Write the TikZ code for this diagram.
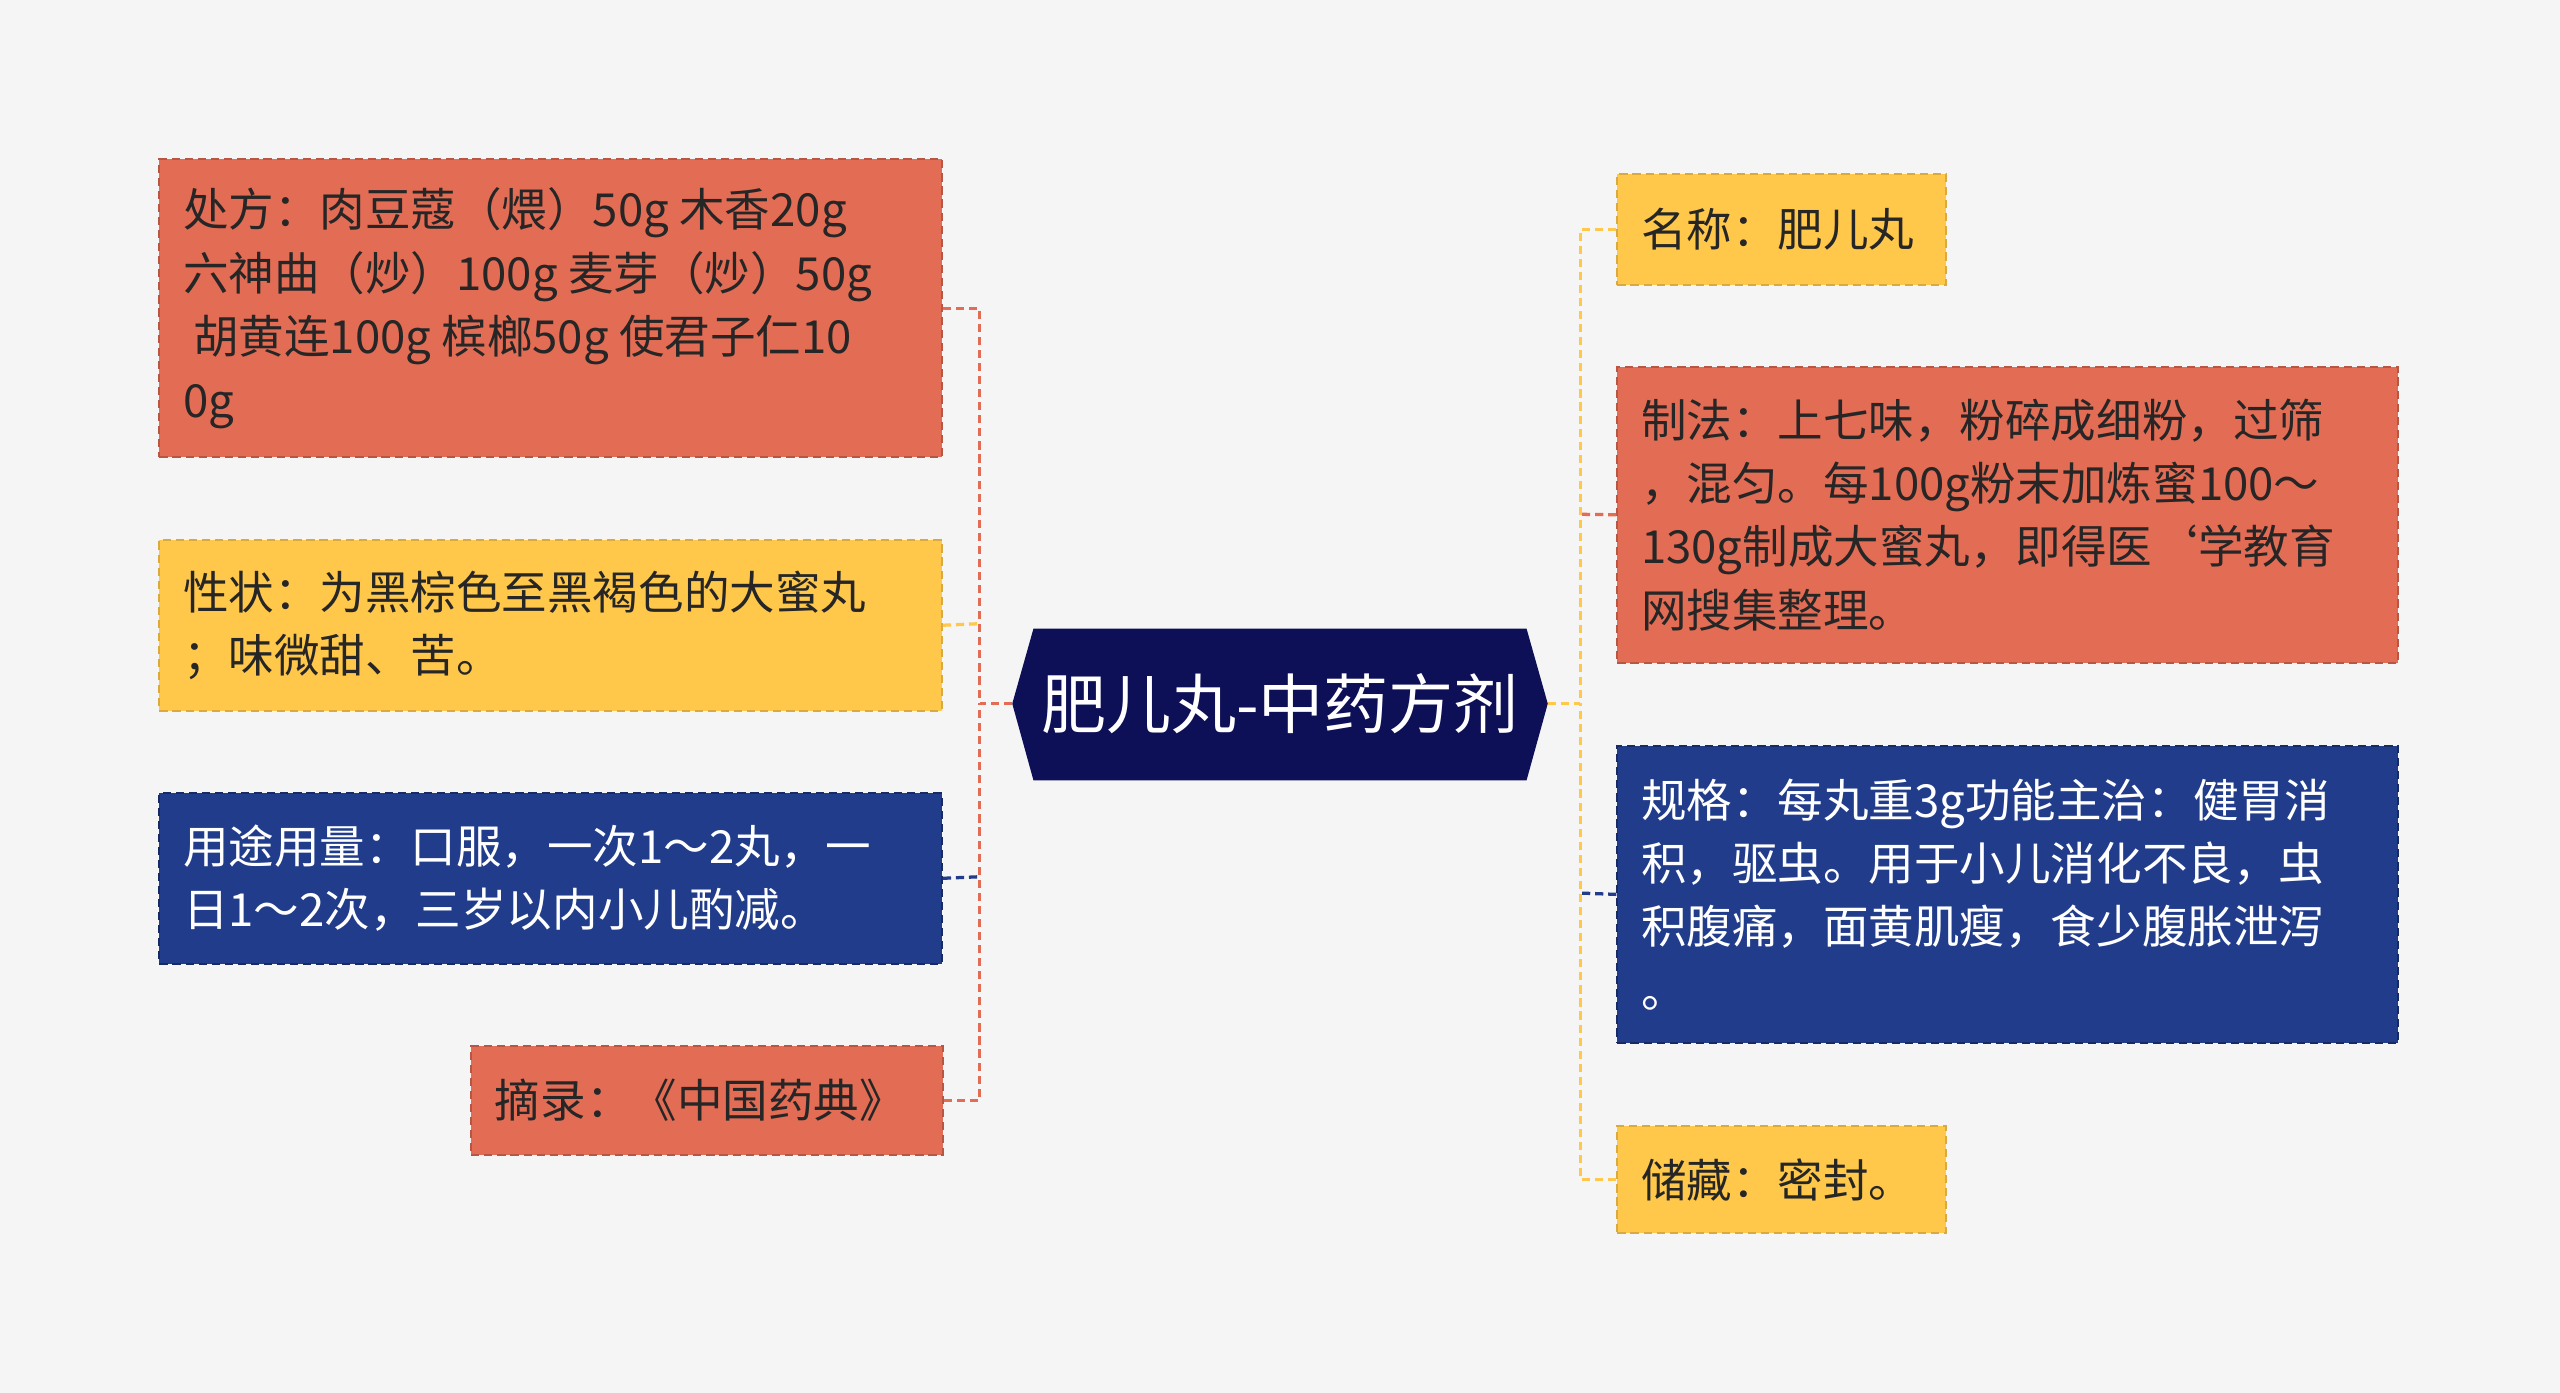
\documentclass[tikz,border=0pt]{standalone}
\usepackage{fontspec}
\setmainfont{Noto Sans CJK SC}
\begin{document}
\begin{tikzpicture}[x=1bp,y=-1bp,
  box/.style={draw, dash pattern=on 5bp off 3bp, line width=1.3bp, anchor=north west, inner sep=0},
  rbox/.style={box, fill=cred, draw=cred!80!black},
  ybox/.style={box, fill=cyel, draw=cyel!85!black},
  bbox/.style={box, fill=cblu, draw=cblu!70!black},
  txt/.style={anchor=west, align=left, inner sep=0, font=\fontsize{28}{39}\selectfont, text=black!85},
  wtxt/.style={txt, text=white},
  conn/.style={dash pattern=on 5bp off 3bp, line width=2bp}]
\definecolor{cred}{HTML}{E36C55}
\definecolor{cyel}{HTML}{FFC84A}
\definecolor{cblu}{HTML}{213C8A}
\definecolor{cnav}{HTML}{0D0F57}
\definecolor{bg}{HTML}{F5F5F5}
\fill[bg] (0,0) rectangle (1568,853);
\useasboundingbox (0,0) rectangle (1568,853);
% center
\fill[cnav] (633,385)--(935,385)--(948,431)--(935,478)--(633,478)--(620,431)--cycle;
\coordinate (cl) at (620,431);
\coordinate (cr) at (948,431);
\node[text=white, font=\fontsize{40}{44}\selectfont, inner sep=0] (c) at (784,431) {肥儿丸-中药方剂};
% left
\node[rbox, minimum width=481, minimum height=183] (l1) at (97,97) {};
\node[txt] (t1) at ([xshift=15]l1.west) {处方：肉豆蔻（煨）50g 木香20g\\六神曲（炒）100g 麦芽（炒）50g\\\ 胡黄连100g 槟榔50g 使君子仁10\\0g};
\node[ybox, minimum width=481, minimum height=105] (l2) at (97,330) {};
\node[txt] (t2) at ([xshift=15]l2.west) {性状：为黑棕色至黑褐色的大蜜丸\\；味微甜、苦。};
\node[bbox, minimum width=481, minimum height=105] (l3) at (97,485) {};
\node[wtxt] (t3) at ([xshift=15]l3.west) {用途用量：口服，一次1～2丸，一\\日1～2次，三岁以内小儿酌减。};
\node[rbox, minimum width=290, minimum height=67] (l4) at (288,640) {};
\node[txt] (t4) at ([xshift=15]l4.west) {摘录：《中国药典》};
% right
\node[ybox, minimum width=202, minimum height=68] (r1) at (990,106) {};
\node[txt] (s1) at ([xshift=15]r1.west) {名称：肥儿丸};
\node[rbox, minimum width=480, minimum height=182] (r2) at (990,224) {};
\node[txt] (s2) at ([xshift=15]r2.west) {制法：上七味，粉碎成细粉，过筛\\，混匀。每100g粉末加炼蜜100～\\130g制成大蜜丸，即得医`学教育\\网搜集整理。};
\node[bbox, minimum width=480, minimum height=183] (r3) at (990,456) {};
\node[wtxt] (s3) at ([xshift=15]r3.west) {规格：每丸重3g功能主治：健胃消\\积，驱虫。用于小儿消化不良，虫\\积腹痛，面黄肌瘦，食少腹胀泄泻\\。};
\node[ybox, minimum width=202, minimum height=66] (r4) at (990,689) {};
\node[txt] (s4) at ([xshift=15]r4.west) {储藏：密封。};
% connectors
\draw[conn, draw=cred] (cl) -- (600,431);
\draw[conn, draw=cred] (l1.east) -| (600,431);
\draw[conn, draw=cyel] (l2.east) -- (600,382);
\draw[conn, draw=cblu] (l3.east) -- (600,537);
\draw[conn, draw=cred] (l4.east) -| (600,431);
\draw[conn, draw=cyel] (cr) -- (968,431);
\draw[conn, draw=cyel] (r1.west) -| (968,431);
\draw[conn, draw=cred] (r2.west) -- (968,315);
\draw[conn, draw=cblu] (r3.west) -- (968,547);
\draw[conn, draw=cyel] (r4.west) -| (968,431);
\end{tikzpicture}
\end{document}
